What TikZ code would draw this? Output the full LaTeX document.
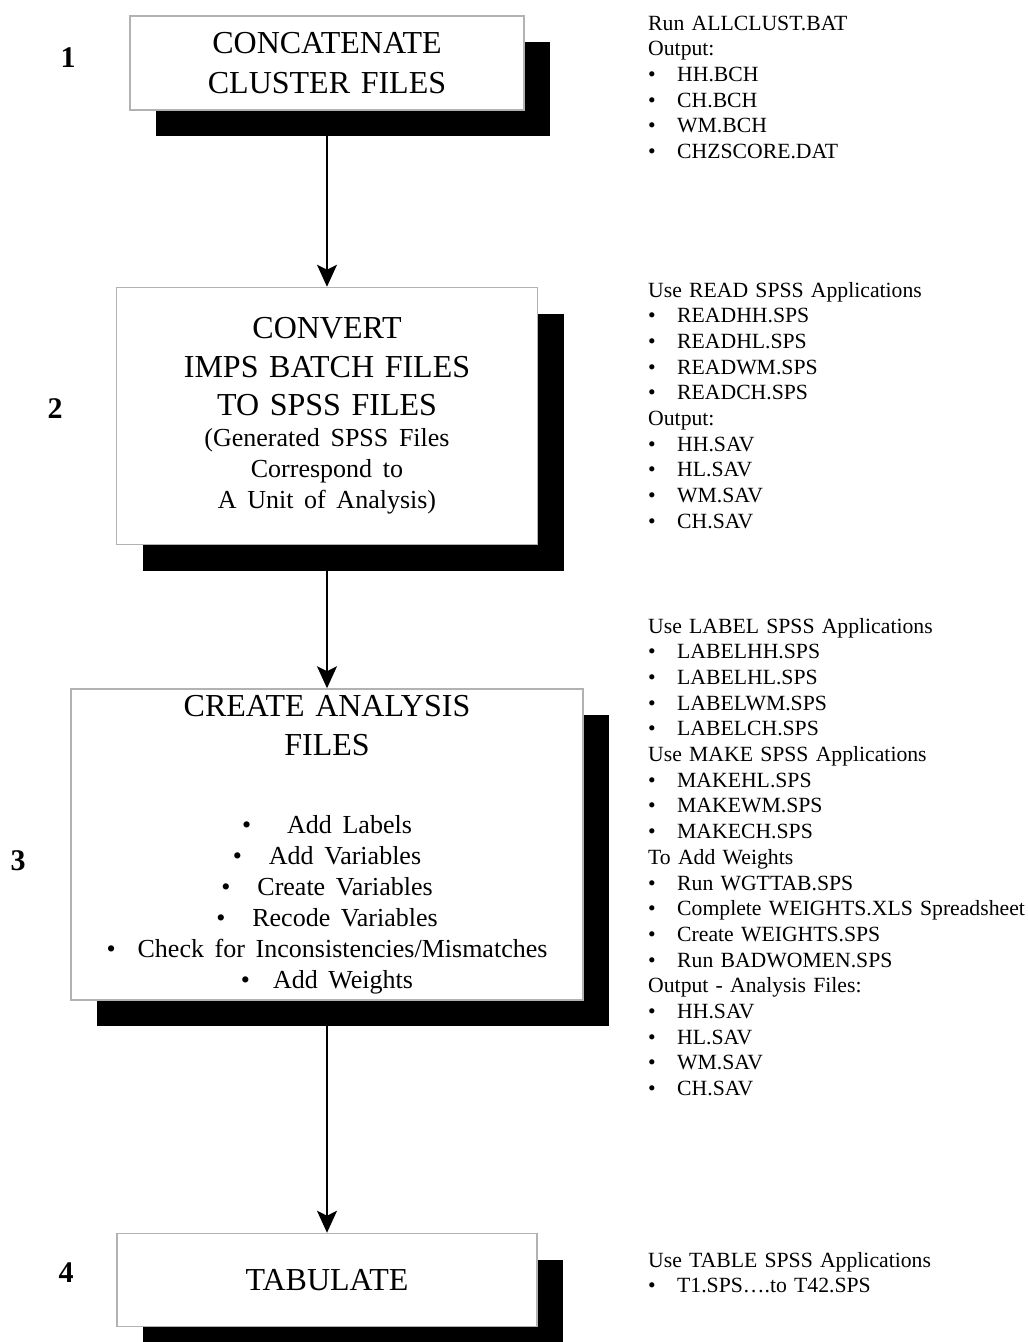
\documentclass[tikz,border=0pt]{standalone}
\usepackage{fontspec}
\setmainfont{Liberation Serif}
\usetikzlibrary{positioning,shadows,arrows.meta}
\tikzstyle{stage} = [rectangle, draw=black!30, line width=1.5pt, fill=white, inner sep=0pt, text centered, font=\fontsize{32}{38.5}\selectfont, drop shadow={shadow xshift=26pt, shadow yshift=-26pt, fill=black, opacity=1}]
\tikzstyle{note} = [anchor=base west, inner sep=0pt, text width=380pt, align=left, font=\fontsize{21.7}{25.7}\selectfont]
\tikzstyle{num} = [anchor=base, inner sep=0pt, font=\fontsize{30}{36}\selectfont\bfseries]
\tikzstyle{arrow} = [line width=1.5pt,-{Stealth[length=22pt,width=20pt,inset=5pt]}]
\newcommand{\bul}{\makebox[29pt][l]{\textbullet}}
\newcommand{\ibul}[1][27pt]{\textbullet\hspace{#1}}

\begin{document}
\begin{tikzpicture}[x=1pt,y=1pt]
	\useasboundingbox (0,0) rectangle (1028,-1342);

	\node (concat) [stage, text width=394pt, minimum height=94pt] at (327,-63) {CONCATENATE\\[2pt]CLUSTER FILES};
	\node (convert) [stage, text width=421pt, minimum height=257pt, below=176pt of concat] {CONVERT\\IMPS BATCH FILES\\TO SPSS FILES\par
		{\fontsize{26}{31}\selectfont (Generated SPSS Files\\Correspond to\\A Unit of Analysis)\par}};
	\node (analysis) [stage, text width=512pt, minimum height=311pt, below=143pt of convert] {CREATE ANALYSIS\\FILES\par
		\vspace{47pt}
		{\fontsize{26}{31}\selectfont \ibul[36pt]Add Labels\\\ibul Add Variables\\\ibul Create Variables\\\ibul Recode Variables\\\ibul[22pt]Check for Inconsistencies/Mismatches\\\ibul[23pt]Add Weights\par}};
	\node (tabulate) [stage, text width=420pt, minimum height=93pt, below=232pt of analysis] {TABULATE};

	\node (stepOne) [num] at (68,-67) {1};
	\node (stepTwo) [num] at (55,-418) {2};
	\node (stepThree) [num] at (18,-870) {3};
	\node (stepFour) [num] at (66,-1282) {4};

	\node (concatNote) [note] at (648,-30) {Run ALLCLUST.BAT\\Output:\\\bul HH.BCH\\\bul CH.BCH\\\bul WM.BCH\\\bul CHZSCORE.DAT};
	\node (convertNote) [note] at (648,-297) {Use READ SPSS Applications\\\bul READHH.SPS\\\bul READHL.SPS\\\bul READWM.SPS\\\bul READCH.SPS\\Output:\\\bul HH.SAV\\\bul HL.SAV\\\bul WM.SAV\\\bul CH.SAV};
	\node (analysisNote) [note] at (648,-633) {Use LABEL SPSS Applications\\\bul LABELHH.SPS\\\bul LABELHL.SPS\\\bul LABELWM.SPS\\\bul LABELCH.SPS\\Use MAKE SPSS Applications\\\bul MAKEHL.SPS\\\bul MAKEWM.SPS\\\bul MAKECH.SPS\\To Add Weights\\\bul Run WGTTAB.SPS\\\bul Complete WEIGHTS.XLS Spreadsheet\\\bul Create WEIGHTS.SPS\\\bul Run BADWOMEN.SPS\\Output - Analysis Files:\\\bul HH.SAV\\\bul HL.SAV\\\bul WM.SAV\\\bul CH.SAV};
	\node (tabulateNote) [note] at (648,-1267) {Use TABLE SPSS Applications\\\bul T1.SPS….to T42.SPS};

	\draw [arrow] (concat) -- (convert);
	\draw [arrow] (convert) -- (analysis);
	\draw [arrow] (analysis) -- (tabulate);

\end{tikzpicture}
\end{document}
